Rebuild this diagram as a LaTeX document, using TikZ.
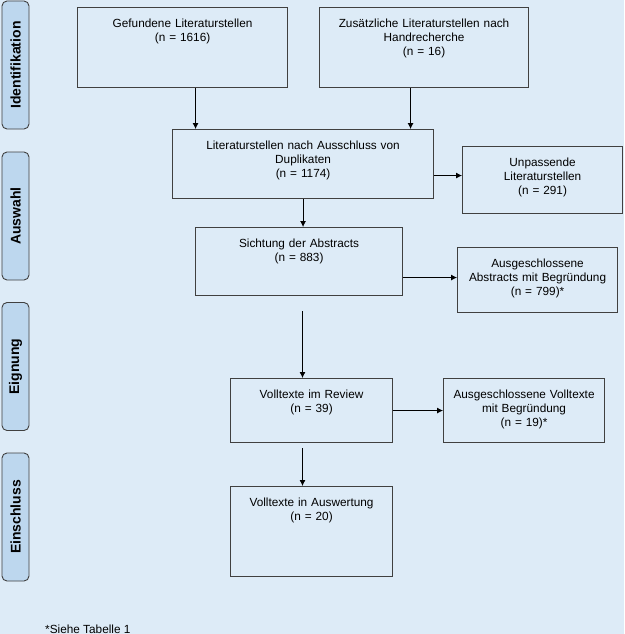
\documentclass[tikz,border=0pt]{standalone}
\usepackage{fontspec}
\setmainfont{Liberation Sans}
\usetikzlibrary{arrows.meta,calc}

\definecolor{paper}{HTML}{DDEBF7}
\definecolor{stagefill}{HTML}{BDD7EE}
\definecolor{frame}{HTML}{404040}

\tikzstyle{stage}=[draw=frame, fill=stagefill, line width=0.9pt, rounded corners=5pt, rotate=90, minimum width=128pt, minimum height=27pt, inner sep=0pt, font=\fontsize{14}{16}\selectfont\bfseries]
\tikzstyle{box}=[draw=frame, line width=1.1pt, anchor=north west, align=center, inner sep=0pt, text height=20pt]
\tikzstyle{flow}=[-{Latex[length=6pt,width=6pt]}, line width=0.8pt]

\begin{document}
\begin{tikzpicture}[x=1pt, y=-1pt, font=\fontsize{11.8}{14}\selectfont]
      \fill[paper] (0,0) rectangle (624,634);
      \useasboundingbox (0,0) rectangle (624,634);
      % phases
      \foreach \name/\y/\txt in {ident/65/Identifikation, sel/216/Auswahl, elig/366.5/Eignung, incl/517/Einschluss} {%
        \node[stage] (\name) at (15.5,\y) {\txt};
      }
      % boxes
      \node[box, text width=210pt, text depth=60pt] (found) at (77,7) {Gefundene Literaturstellen\\(n = 1616)};
      \node[box, text width=209pt, text depth=60pt] (hand) at (319,7) {Zusätzliche Literaturstellen nach\\Handrecherche\\(n = 16)};
      \node[box, text width=261pt, text depth=49pt] (dedup) at (172,129) {Literaturstellen nach Ausschluss von\\Duplikaten\\(n = 1174)};
      \node[box, text width=160pt, text depth=47pt] (unfit) at (462,146) {Unpassende\\Literaturstellen\\(n = 291)};
      \node[box, text width=207pt, text depth=48pt] (screen) at (195,227) {Sichtung der Abstracts\\(n = 883)};
      \node[box, text width=160pt, text depth=45pt] (exabs) at (457,247) {Ausgeschlossene\\Abstracts mit Begründung\\(n = 799)*};
      \node[box, text width=162pt, text depth=44pt] (review) at (230,378) {Volltexte im Review\\(n = 39)};
      \node[box, text width=161pt, text depth=44pt] (extext) at (443,378) {Ausgeschlossene Volltexte\\mit Begründung\\(n = 19)*};
      \node[box, text width=162pt, text depth=70pt] (final) at (230,486) {Volltexte in Auswertung\\(n = 20)};
      \node[anchor=base west, inner sep=0pt] (note) at (45,633) {*Siehe Tabelle 1};
      \coordinate (gap) at (302.5,311);
      \coordinate (out1) at ($(dedup.east)+(0,11.5)$);
      \coordinate (out2) at ($(screen.east)+(0,16)$);
      \coordinate (out3) at ($(gap |- review.south)+(0,5)$);
      % arrows
      \draw[flow] ([xshift=13pt]found.south) -- ([xshift=13pt]found.south |- dedup.north);
      \draw[flow] ([xshift=-13.5pt]hand.south) -- ([xshift=-13.5pt]hand.south |- dedup.north);
      \draw[flow] (dedup.south) -- (dedup.south |- screen.north);
      \draw[flow] (out1) -- (out1 -| unfit.west);
      \draw[flow] (out2) -- (out2 -| exabs.west);
      \draw[flow] (gap) -- (gap |- review.north);
      \draw[flow] (review.east) -- (extext.west);
      \draw[flow] (out3) -- (gap |- final.north);
    \end{tikzpicture}
\end{document}
